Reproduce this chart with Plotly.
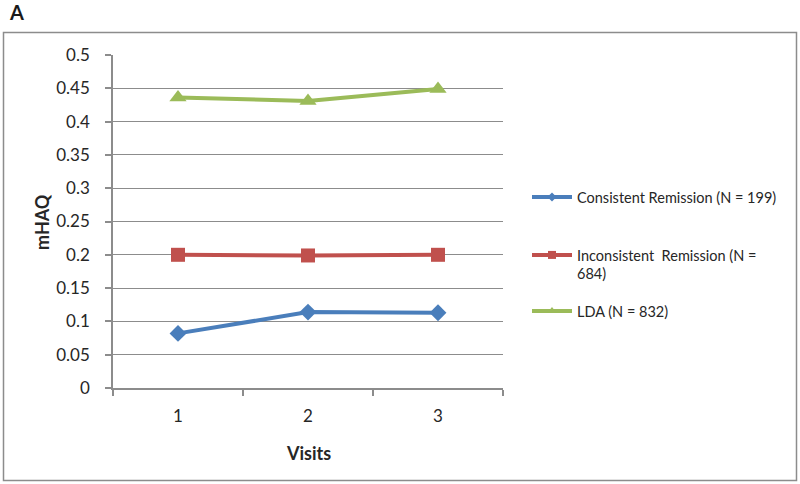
import plotly.graph_objects as go

visits = [1, 2, 3]
series_names = ["Consistent Remission (N = 199)",
                "Inconsistent  Remission (N =<br>684)",
                "LDA (N = 832)"]
consistent = [0.082, 0.114, 0.113]
inconsistent = [0.200, 0.199, 0.200]
lda = [0.436, 0.431, 0.449]
y_ticks = [0, 0.05, 0.1, 0.15, 0.2, 0.25, 0.3, 0.35, 0.4, 0.45, 0.5]
y_labels = ["0", "0.05", "0.1", "0.15", "0.2", "0.25", "0.3", "0.35", "0.4", "0.45", "0.5"]

colors = ["#4A7EBB", "#C0504D", "#9BBB59"]
symbols = ["diamond", "square", "triangle-up"]
sizes = [13, 14, 15]
legend_sizes = [7, 8, 8]
FONT = "Lato, 'Open Sans', sans-serif"
TXT = "#262626"
GRID = "#8c8c8c"

W, H = 800, 484
L, R, T, B = 113, 297, 55, 96
pw, ph = W - L - R, H - T - B


def px(xp):
    return (xp - L) / pw


def py(yp):
    return (H - B - yp) / ph


legend_tops = [181, 239, 295]
legend_keys = ["legend", "legend2", "legend3"]

fig = go.Figure()
for i, vals in enumerate([consistent, inconsistent, lda]):
    fig.add_trace(go.Scatter(
        x=visits, y=vals, mode="lines+markers", name=series_names[i],
        showlegend=False, hoverinfo="x+y+name",
        line=dict(color=colors[i], width=4),
        marker=dict(symbol=symbols[i], size=sizes[i], color=colors[i]),
    ))
    # legend entry with the small marker used in the reference legend
    fig.add_trace(go.Scatter(
        x=[None], y=[None], mode="lines+markers", name=series_names[i],
        legend=legend_keys[i], showlegend=True,
        line=dict(color=colors[i], width=4),
        marker=dict(symbol=symbols[i], size=legend_sizes[i], color=colors[i]),
    ))

legend_common = dict(
    xanchor="left", yanchor="top",
    font=dict(size=14.5, color=TXT, family=FONT),
    bgcolor="rgba(0,0,0,0)", itemwidth=40, valign="top",
)

fig.update_layout(
    width=W, height=H,
    margin=dict(l=L, r=R, t=T, b=B, pad=0),
    paper_bgcolor="white", plot_bgcolor="white",
    font=dict(family=FONT, size=17, color=TXT),
    showlegend=True,
    xaxis=dict(
        range=[0.5, 3.5], tickvals=visits, ticktext=[str(v) for v in visits],
        ticks="", showgrid=False, zeroline=False,
        showline=True, linecolor=GRID, linewidth=1.5,
        tickfont=dict(size=17, color=TXT), ticklabelstandoff=12,
        minor=dict(tickmode="linear", tick0=0.5, dtick=1, ticks="outside",
                   ticklen=6, tickcolor=GRID, tickwidth=1.5, showgrid=False),
    ),
    yaxis=dict(
        range=[0, 0.5], tickvals=y_ticks, ticktext=y_labels,
        ticks="outside", ticklen=6, tickcolor=GRID, tickwidth=1.5,
        showgrid=True, gridcolor=GRID, gridwidth=1.2, zeroline=False,
        showline=True, linecolor=GRID, linewidth=1.5,
        tickfont=dict(size=17, color=TXT), ticklabelstandoff=12,
    ),
    shapes=[dict(type="rect", xref="paper", yref="paper",
                 x0=px(3.5), x1=px(796.5), y0=py(480.5), y1=py(32.5),
                 line=dict(color=GRID, width=1.5), fillcolor="rgba(0,0,0,0)",
                 layer="below")],
    annotations=[
        dict(text="<b>A</b>", xref="paper", yref="paper", x=px(7), y=py(12),
             xanchor="left", yanchor="middle", showarrow=False,
             font=dict(size=20, color="#1a1a1a")),
        dict(text="<b>mHAQ</b>", xref="paper", yref="paper", x=px(42), y=py(222),
             xanchor="center", yanchor="middle", showarrow=False, textangle=-90,
             font=dict(size=18, color=TXT)),
        dict(text="<b>Visits</b>", xref="paper", yref="paper", x=px(308), y=py(453),
             xanchor="center", yanchor="middle", showarrow=False,
             font=dict(size=18, color=TXT)),
    ],
)
for key, top in zip(legend_keys, legend_tops):
    fig.update_layout({key: dict(x=px(527), y=py(top), **legend_common)})

fig.write_html("out.html", config={"displayModeBar": False},
               post_script="document.body.style.margin='0';")
